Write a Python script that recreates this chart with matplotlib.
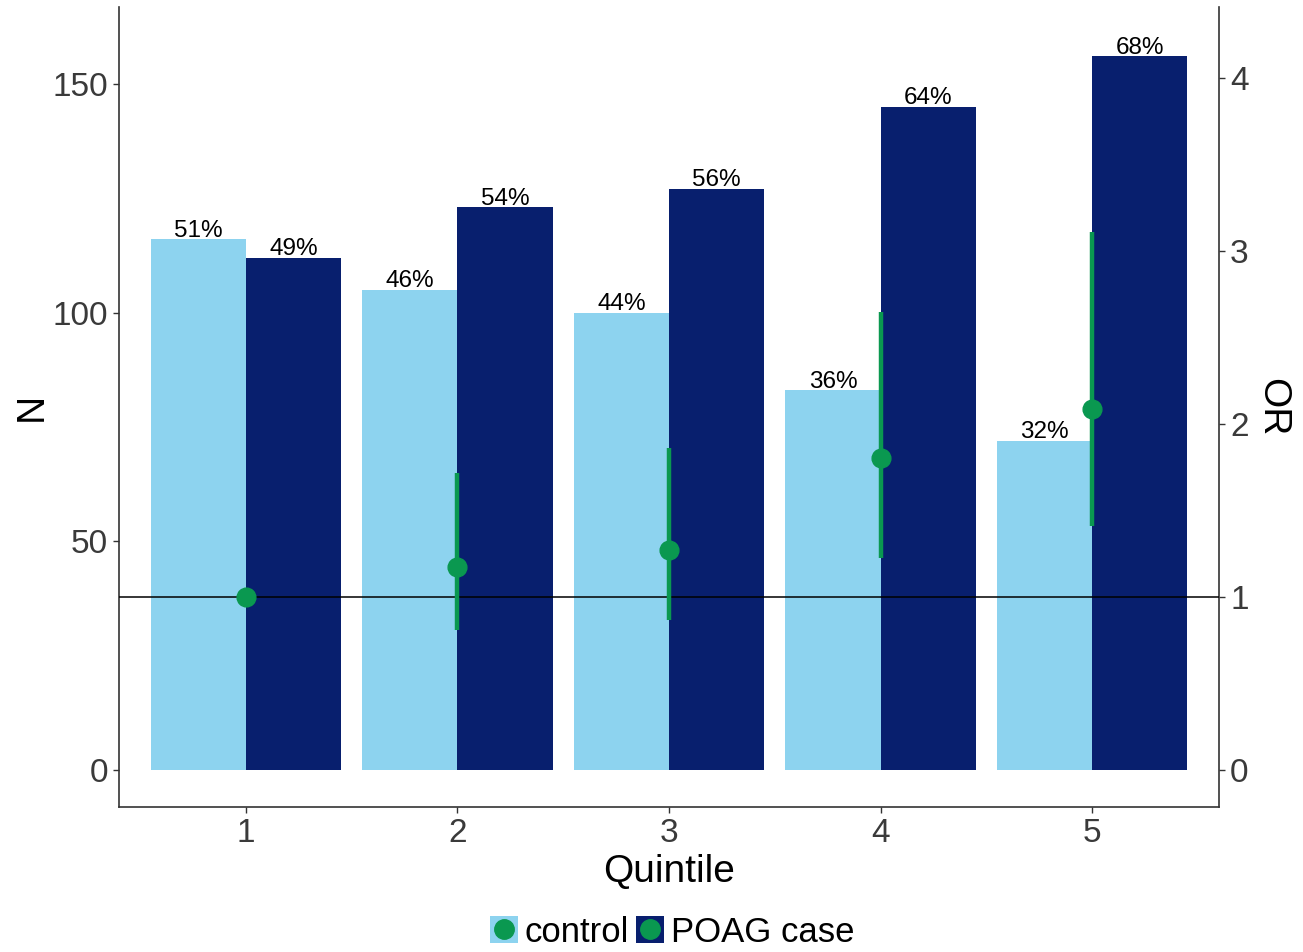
import matplotlib
matplotlib.use("Agg")
import matplotlib.pyplot as plt
import numpy as np
from matplotlib.patches import Patch
from matplotlib.lines import Line2D
from matplotlib.legend_handler import HandlerTuple

plt.rcParams['font.family'] = ['Liberation Sans', 'DejaVu Sans']

quintiles = [1, 2, 3, 4, 5]
control_n = [116, 105, 100, 83, 72]
case_n = [112, 123, 127, 145, 156]
control_pct = ["51%", "46%", "44%", "36%", "32%"]
case_pct = ["49%", "54%", "56%", "64%", "68%"]
or_est = [1.0, 1.175, 1.27, 1.806, 2.09]
or_low = [1.0, 0.81, 0.868, 1.227, 1.41]
or_high = [1.0, 1.72, 1.864, 2.65, 3.11]

c_light = "#8DD3EF"
c_navy = "#081F6E"
c_green = "#0A9850"
tick_col = "#3A3A3A"

fig = plt.figure(figsize=(13.03, 9.52), dpi=100)
ax = fig.add_axes([119/1303, 1 - 806.7/952, (1219-119)/1303, (806.7-7)/952])

x = np.array(quintiles, dtype=float)
w = 0.45
ax.bar(x - w/2, control_n, width=w, color=c_light, linewidth=0, zorder=2)
ax.bar(x + w/2, case_n, width=w, color=c_navy, linewidth=0, zorder=2)

for xi, v, t in zip(x - w/2, control_n, control_pct):
    ax.annotate(t, (xi, v), xytext=(0, 2), textcoords='offset points',
                ha='center', va='baseline', fontsize=17.5, color='black', zorder=5)
for xi, v, t in zip(x + w/2, case_n, case_pct):
    ax.annotate(t, (xi, v), xytext=(0, 2), textcoords='offset points',
                ha='center', va='baseline', fontsize=17.5, color='black', zorder=5)

ax.set_xlim(0.4, 5.6)
ylo, yhi = -8.0, 166.8
ax.set_ylim(ylo, yhi)
ax.set_xticks(quintiles)
ax.set_xticklabels([str(q) for q in quintiles])
ax.set_yticks([0, 50, 100, 150])

factor = 37.8
ax2 = ax.twinx()
ax2.set_ylim(ylo / factor, yhi / factor)
ax2.set_yticks([0, 1, 2, 3, 4])

ax2.axhline(1.0, color='black', linewidth=1.1, zorder=3)
yerr = [np.array(or_est) - np.array(or_low), np.array(or_high) - np.array(or_est)]
ax2.errorbar(x, or_est, yerr=yerr, fmt='o', color=c_green, ecolor=c_green,
             elinewidth=3.2, markersize=13.5, capsize=0, zorder=4)

for a in (ax, ax2):
    a.spines['top'].set_visible(False)
    for s in ('left', 'right', 'bottom'):
        a.spines[s].set_color('#333333')
        a.spines[s].set_linewidth(1.2)
    a.tick_params(axis='both', labelsize=24, colors='#333333', labelcolor=tick_col,
                  length=4, width=1.0, pad=4)
ax2.spines['left'].set_visible(False)
ax2.spines['bottom'].set_visible(False)
ax.spines['right'].set_visible(False)

ax.set_xlabel("Quintile", fontsize=28, labelpad=4)
ax.set_ylabel("N", fontsize=28, labelpad=2)
ax2.set_ylabel("OR", fontsize=28, rotation=270, labelpad=30)

handles = [(Patch(facecolor=c_light, edgecolor='none'),
            Line2D([], [], marker='o', color=c_green, ls='', markersize=14)),
           (Patch(facecolor=c_navy, edgecolor='none'),
            Line2D([], [], marker='o', color=c_green, ls='', markersize=14))]
fig.legend(handles, ["control", "POAG case"], loc='center', bbox_to_anchor=(672/1303, 1 - 932/952),
           ncol=2, frameon=False, fontsize=25, handler_map={tuple: HandlerTuple(ndivide=1)},
           handlelength=0.8, handleheight=0.8, handletextpad=0.2, columnspacing=0.2,
           borderpad=0, borderaxespad=0)

fig.savefig("out.png", dpi=100)
